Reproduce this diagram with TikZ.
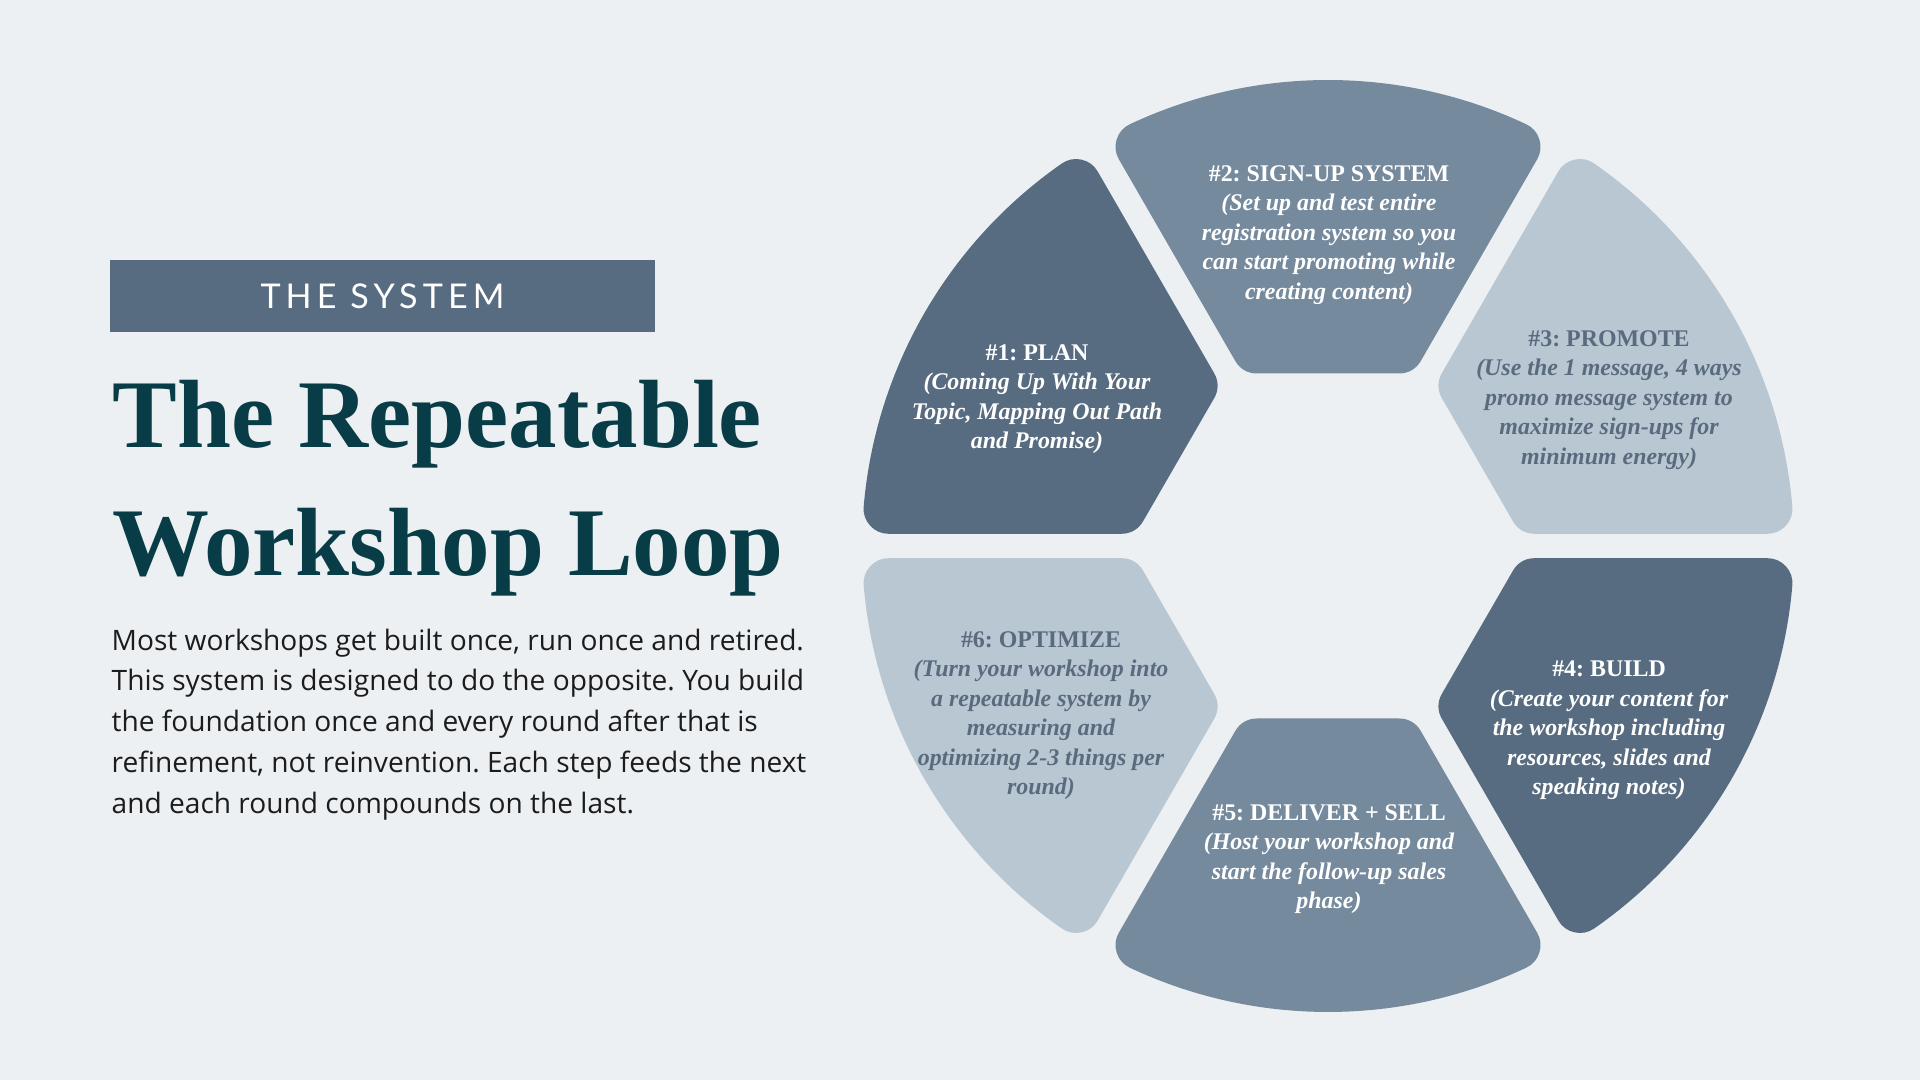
\documentclass[tikz,border=0pt]{standalone}
\usepackage{fontspec}
\setmainfont{Liberation Serif}
\newfontfamily\blurbfont{Open Sans}
\newfontfamily\tagfont{Lato}[LetterSpace=15]
\frenchspacing

\definecolor{pagebg}{RGB}{236,240,243}
\definecolor{slatedark}{RGB}{87,108,128}
\definecolor{slatemid}{RGB}{118,138,157}
\definecolor{slatelight}{RGB}{185,199,211}
\definecolor{slatetext}{RGB}{90,107,126}
\definecolor{titleteal}{RGB}{8,60,70}
\definecolor{blurbtext}{RGB}{28,28,28}

\tikzset{
  ringpart/.style={fill=#1, draw=#1, line width=5mm, line join=round},
  steptext/.style={align=center, inner sep=0pt, text=#1,
    font=\fontsize{6.8}{8.4}\selectfont\bfseries\itshape},
  titleline/.style={anchor=base west, inner sep=0pt, text=titleteal,
    font=\fontsize{27.6}{36}\selectfont\bfseries},
}

\begin{document}
\begin{tikzpicture}
\fill[pagebg] (0,0) rectangle (19.2,10.8);
\useasboundingbox (0,0) rectangle (19.2,10.8);

\node[fill=slatedark, minimum width=5.45cm, minimum height=0.72cm, inner sep=0pt,
  text=white, font=\tagfont\fontsize{9.7}{11}\selectfont] (tag) at (3.825,7.84) {THE SYSTEM};
\node[titleline] (title1) at (1.12,6.32) {The Repeatable};
\node[titleline] (title2) at (1.12,5.045) {Workshop Loop};
\node[anchor=north west, inner sep=0pt, align=left, text=blurbtext,
  font=\blurbfont\fontsize{8.0}{11.6}\selectfont] (blurb) at (1.11,4.52)
  {Most workshops get built once, run once and retired.\\
   This system is designed to do the opposite. You build\\
   the foundation once and every round after that is\\
   refinement, not reinvention. Each step feeds the next\\
   and each round compounds on the last.};

% the loop
\coordinate (hub) at (13.28,5.34);
\foreach \ang/\col in {150/slatedark, 90/slatemid, 30/slatelight, -30/slatedark, -90/slatemid, -150/slatelight} {
  \begin{scope}[shift={(hub)}, rotate=\ang-90]
    \filldraw[ringpart=\col] (0.711,1.975) -- (64.84:4.41)
      arc[start angle=64.84, end angle=115.16, radius=4.41]
      -- (-0.711,1.975) -- cycle;
  \end{scope}
}

\node[steptext=white] (plan) at (10.37,6.81)
  {{\upshape\#1: PLAN}\\(Coming Up With Your\\Topic, Mapping Out Path\\and Promise)};
\node[steptext=white] (signup) at (13.29,8.45)
  {{\upshape\#2: SIGN-UP SYSTEM}\\(Set up and test entire\\registration system so you\\can start promoting while\\creating content)};
\node[steptext=slatetext] (promote) at (16.09,6.80)
  {{\upshape\#3: PROMOTE}\\(Use the 1 message, 4 ways\\promo message system to\\maximize sign-ups for\\minimum energy)};
\node[steptext=white] (build) at (16.09,3.495)
  {{\upshape\#4: BUILD}\\(Create your content for\\the workshop including\\resources, slides and\\speaking notes)};
\node[steptext=white] (deliver) at (13.29,2.21)
  {{\upshape\#5: DELIVER + SELL}\\(Host your workshop and\\start the follow-up sales\\phase)};
\node[steptext=slatetext] (optimize) at (10.41,3.645)
  {{\upshape\#6: OPTIMIZE}\\(Turn your workshop into\\a repeatable system by\\measuring and\\optimizing 2-3 things per\\round)};
\end{tikzpicture}
\end{document}
